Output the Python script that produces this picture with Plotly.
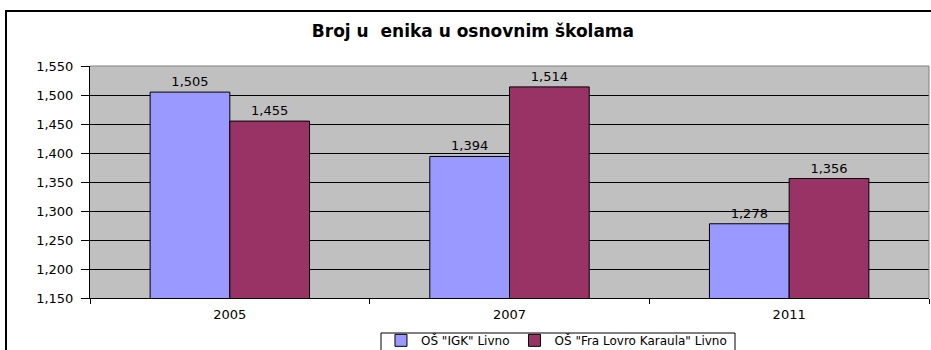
import plotly.graph_objects as go

years = ["2005", "2007", "2011"]
igk = [1505, 1394, 1278]
fra_lovro = [1455, 1514, 1356]
series_names = ['OŠ "IGK" Livno', 'OŠ "Fra Lovro Karaula" Livno']
title_text = "Broj u  enika u osnovnim školama"
y_ticks = [1150, 1200, 1250, 1300, 1350, 1400, 1450, 1500, 1550]

FONT = "DejaVu Sans, Arial, sans-serif"

fig = go.Figure()
for name, vals, color in [(series_names[0], igk, "#9999FF"),
                          (series_names[1], fra_lovro, "#993366")]:
    fig.add_trace(go.Bar(
        x=years, y=vals, name=name,
        marker=dict(color=color, line=dict(color="black", width=1)),
        text=vals, texttemplate="%{y:,}", textposition="outside",
        textfont=dict(family=FONT, size=13, color="black"),
        cliponaxis=False,
    ))

fig.update_layout(
    width=931, height=350,
    margin=dict(l=90, r=2, t=66, b=52, autoexpand=False),
    paper_bgcolor="white",
    plot_bgcolor="#C0C0C0",
    barmode="group", bargap=0.43, bargroupgap=0,
    font=dict(family=FONT, size=13, color="black"),
    title=dict(text="<b>" + title_text + "</b>", x=0.508, xanchor="center",
               y=0.912, yanchor="middle", font=dict(family=FONT, size=17, color="black")),
    showlegend=True,
    legend=dict(orientation="h", x=0.556, xanchor="center", y=-0.12, yanchor="top",
                borderwidth=0, bgcolor="rgba(0,0,0,0)",
                font=dict(family=FONT, size=12), itemwidth=30,
                tracegroupgap=0),
)

fig.update_xaxes(
    showline=True, linecolor="black", linewidth=1,
    ticks="outside", ticklen=5, tickcolor="black",
    tickson="boundaries", showgrid=False, ticklabelstandoff=4,
    tickfont=dict(family=FONT, size=13),
)
fig.update_yaxes(
    range=[1150, 1550], tickvals=y_ticks, tickformat=",",
    showline=True, linecolor="black", linewidth=1,
    ticks="outside", ticklen=8, tickcolor="black", ticklabelstandoff=5,
    showgrid=True, gridcolor="black", gridwidth=1,
    tickfont=dict(family=FONT, size=13),
    zeroline=False,
)

# gray border on the top and right edges of the plot area
fig.add_shape(type="line", xref="paper", yref="paper", x0=0, x1=1, y0=1, y1=1,
              line=dict(color="#808080", width=1))
fig.add_shape(type="line", xref="paper", yref="paper", x0=1, x1=1, y0=0, y1=1,
              line=dict(color="#808080", width=1))
# outer chart frame
fig.add_shape(type="rect", xref="paper", yref="paper",
              x0=(6 - 90) / 839, x1=1.1, y0=-0.6, y1=(298 - 11) / 232,
              line=dict(color="black", width=2), layer="below")
# legend box
fig.add_shape(type="rect", xref="paper", yref="paper",
              x0=(381 - 90) / 839, x1=(735 - 90) / 839,
              y0=(298 - 352) / 232, y1=(298 - 333) / 232,
              line=dict(color="black", width=1), fillcolor="white", layer="below")

fig.write_html("out.html")
